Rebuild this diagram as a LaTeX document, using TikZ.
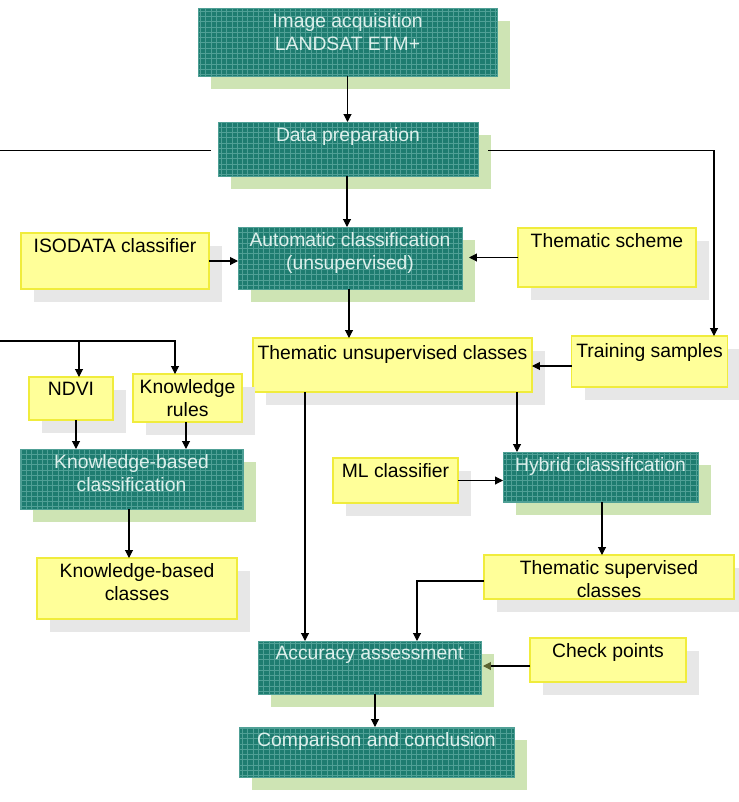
\documentclass[tikz,border=0pt]{standalone}
\usepackage{fontspec}
\setmainfont{Liberation Sans}
\usepackage{tikz}
\usetikzlibrary{arrows.meta,shadows,patterns}
\definecolor{boxteal}{RGB}{30,124,112}
\definecolor{gridteal}{RGB}{80,160,150}
\definecolor{shadegreen}{RGB}{206,228,180}
\definecolor{boxyellow}{RGB}{255,255,153}
\definecolor{edgeyellow}{RGB}{240,236,60}
\definecolor{shadegray}{RGB}{231,231,231}
\definecolor{textteal}{RGB}{222,240,236}
\definecolor{tipolive}{RGB}{90,100,50}

\begin{document}
\begin{tikzpicture}[>={Triangle[length=4.5pt,width=4.5pt]},
  box/.style={rectangle,inner sep=0pt,outer sep=0pt},
  process/.style={box,fill=boxteal,draw=gridteal,line width=0.4pt,
    postaction={pattern=grid,pattern color=gridteal},
    general shadow={fill=shadegreen,shadow xshift=0.26cm,shadow yshift=-0.26cm}},
  source/.style={box,fill=boxyellow,draw=edgeyellow,line width=0.8pt,
    general shadow={fill=shadegray,shadow xshift=0.26cm,shadow yshift=-0.26cm}},
  intext/.style={anchor=north,inner sep=0.1cm,align=center,font=\fontsize{11}{13}\selectfont},
  ptext/.style={intext,text=textteal},
  line/.style={line width=0.6pt}]
\useasboundingbox (0,0) rectangle (14.78,-16.04);

\node[process,minimum width=5.98cm,minimum height=1.36cm,
  label={[ptext]north:Image acquisition\\LANDSAT ETM+}] (acq) at (6.95,-0.84) {};
\node[process,minimum width=5.2cm,minimum height=1.08cm,
  label={[ptext]north:Data preparation}] (prep) at (6.96,-2.98) {};
\node[process,minimum width=4.48cm,minimum height=1.24cm,
  label={[ptext]north:Automatic classification\\(unsupervised)}] (auto) at (7,-5.16) {};
\node[source,minimum width=3.76cm,minimum height=1.12cm,
  label={[intext]north:ISODATA classifier}] (isodata) at (2.3,-5.22) {};
\node[source,minimum width=3.56cm,minimum height=1.18cm,
  label={[intext]north:Thematic scheme}] (scheme) at (12.14,-5.15) {};
\node[source,minimum width=5.58cm,minimum height=1.08cm,
  label={[intext,inner sep=0.14cm]north:Thematic unsupervised classes}] (unsup) at (7.85,-7.3) {};
\node[source,minimum width=3.12cm,minimum height=1.02cm,
  label={[intext,inner sep=0.14cm]north:Training samples}] (train) at (12.99,-7.23) {};
\node[source,minimum width=1.68cm,minimum height=0.86cm,
  label={[intext]north:NDVI}] (ndvi) at (1.42,-7.97) {};
\node[source,minimum width=2.18cm,minimum height=0.96cm,
  label={[intext]north:Knowledge\\rules}] (rules) at (3.75,-7.96) {};
\node[process,minimum width=4.46cm,minimum height=1.2cm,
  label={[ptext]north:Knowledge-based\\classification}] (kbclass) at (2.63,-9.58) {};
\node[source,minimum width=4cm,minimum height=1.22cm,
  label={[intext]north:Knowledge-based\\classes}] (kbres) at (2.74,-11.77) {};
\node[source,minimum width=2.5cm,minimum height=0.9cm,
  label={[intext]north:ML classifier}] (ml) at (7.91,-9.61) {};
\node[process,minimum width=3.9cm,minimum height=1cm,
  label={[ptext]north:Hybrid classification}] (hybrid) at (12.01,-9.54) {};
\node[source,minimum width=5cm,minimum height=0.88cm,
  label={[intext]north:Thematic supervised\\classes}] (sup) at (12.18,-11.54) {};
\node[process,minimum width=4.46cm,minimum height=1.06cm,
  label={[ptext]north:Accuracy assessment}] (acc) at (7.39,-13.35) {};
\node[source,minimum width=3.12cm,minimum height=0.88cm,
  label={[intext]north:Check points}] (check) at (12.16,-13.2) {};
\node[process,minimum width=5.5cm,minimum height=1cm,
  label={[ptext]north:Comparison and conclusion}] (comp) at (7.53,-15.04) {};

% lines coming in from the left edge
\coordinate (outA) at (0,-3.01);
\coordinate (outB) at (0,-6.82);

\draw[line,->] (acq.south) -- (acq.south |- prep.north);
\draw[line] ([xshift=-0.14cm,yshift=-0.03cm]prep.west) -- (outA);
\draw[line,->] ([xshift=0.2cm,yshift=-0.03cm]prep.east) -| ([xshift=-0.27cm]train.north east);
\draw[line,->] ([xshift=-0.02cm]prep.south) -- ([xshift=-0.02cm]prep.south |- auto.north);
\draw[line,->] (isodata.east) -- (isodata.east -| auto.west);
\draw[line,->] (scheme.west) -- ([xshift=0.14cm]scheme.west -| auto.east);
\draw[line,->] ([xshift=-0.02cm]auto.south) -- ([xshift=-0.02cm]auto.south |- unsup.north);
\draw[line,->] ([yshift=-0.09cm]train.west) -- ([yshift=-0.09cm]train.west -| unsup.east);
\draw[line,->] ([xshift=2.49cm]unsup.south) -- ([xshift=2.49cm]unsup.south |- hybrid.north);
\draw[line,->] ([xshift=-1.75cm]unsup.south) -- ([xshift=-1.75cm]unsup.south |- acc.north);
\draw[line,->] (outB) -| ([xshift=-0.25cm]rules.north);
\draw[line,->] ([xshift=0.16cm]ndvi.north |- outB) -- ([xshift=0.16cm]ndvi.north);
\draw[line,->] ([xshift=0.1cm]ndvi.south) -- ([xshift=0.1cm]ndvi.south |- kbclass.north);
\draw[line,->] ([xshift=-0.03cm]rules.south) -- ([xshift=-0.03cm]rules.south |- kbclass.north);
\draw[line,->] ([xshift=-0.05cm]kbclass.south) -- ([xshift=-0.05cm]kbclass.south |- kbres.north);
\draw[line,->] (ml.east) -- (ml.east -| hybrid.west);
\draw[line,->] ([xshift=0.03cm]hybrid.south) -- ([xshift=0.03cm]hybrid.south |- sup.north);
\draw[line,->] ([yshift=-0.08cm]sup.west) -| ([xshift=0.95cm]acc.north);
\draw[line,-{Triangle[length=4.5pt,width=4.5pt,color=tipolive]}]
  ([yshift=-0.12cm]check.west) -- ([yshift=-0.12cm,xshift=0.04cm]check.west -| acc.east);
\draw[line,->] ([xshift=0.11cm]acc.south) -- ([xshift=0.11cm]acc.south |- comp.north);
\end{tikzpicture}
\end{document}
